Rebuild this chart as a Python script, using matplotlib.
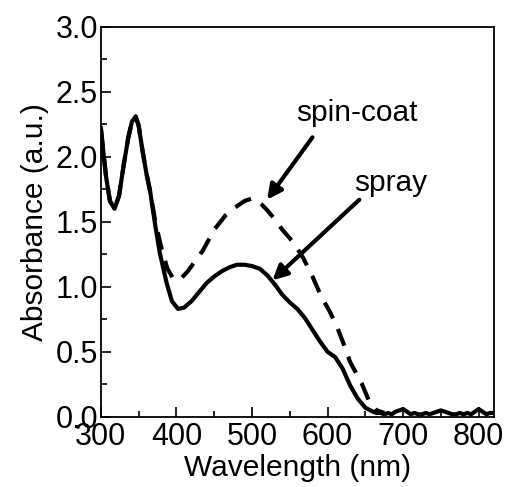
import matplotlib
matplotlib.use("Agg")
import matplotlib.pyplot as plt
from matplotlib.ticker import MultipleLocator

plt.rcParams["font.family"] = ["Liberation Sans", "DejaVu Sans"]

# spray film (solid line)
spray_wl = [300, 303, 307, 312, 318, 324, 330, 336, 341, 346, 350, 355, 360, 365,
            372, 378, 387, 394, 402, 410, 420, 430, 440, 450, 460, 470, 480, 490,
            500, 510, 520, 530, 540, 550, 560, 570, 580, 590, 600, 610, 620, 630,
            640, 650, 660, 665, 670, 675, 680, 685, 690, 695, 700, 705, 710, 715,
            720, 725, 730, 735, 740, 745, 750, 755, 760, 765, 770, 775, 780, 785,
            790, 795, 800, 805, 810, 815, 820]
spray_abs = [2.22, 2.05, 1.84, 1.66, 1.60, 1.70, 1.93, 2.14, 2.27, 2.31, 2.24, 2.05,
             1.88, 1.74, 1.47, 1.26, 1.03, 0.89, 0.83, 0.84, 0.89, 0.96, 1.03, 1.08,
             1.12, 1.15, 1.17, 1.17, 1.16, 1.14, 1.09, 1.02, 0.94, 0.88, 0.83, 0.76,
             0.67, 0.58, 0.50, 0.46, 0.37, 0.24, 0.14, 0.07, 0.04, 0.03, 0.03, 0.02,
             0.03, 0.02, 0.04, 0.05, 0.06, 0.04, 0.02, 0.03, 0.02, 0.02, 0.03, 0.02,
             0.03, 0.04, 0.05, 0.04, 0.03, 0.02, 0.02, 0.03, 0.02, 0.03, 0.02, 0.04,
             0.06, 0.04, 0.02, 0.03, 0.03]

# spin-coated film (dashed line)
spin_wl = [300, 303, 307, 312, 318, 324, 330, 336, 341, 346, 350, 355, 360, 365,
           372, 380, 388, 395, 400, 407, 415, 425, 435, 450, 465, 475, 490, 500,
           510, 520, 530, 540, 555, 568, 580, 592, 602, 612, 622, 630, 645, 655,
           665, 675]
spin_abs = [2.22, 2.05, 1.84, 1.66, 1.60, 1.70, 1.93, 2.14, 2.27, 2.31, 2.24, 2.05,
            1.88, 1.74, 1.50, 1.30, 1.14, 1.07, 1.05, 1.07, 1.12, 1.20, 1.28, 1.44,
            1.55, 1.60, 1.66, 1.68, 1.65, 1.59, 1.52, 1.44, 1.34, 1.22, 1.08, 0.92,
            0.82, 0.70, 0.55, 0.42, 0.26, 0.12, 0.05, 0.03]

fig = plt.figure(figsize=(5.07, 4.87), dpi=100)
ax = fig.add_axes([0.199, 0.144, 0.775, 0.801])

ax.plot(spray_wl, spray_abs, color="black", lw=3.0, solid_joinstyle="round")
ax.plot(spin_wl, spin_abs, color="black", lw=3.0, linestyle=(0, (4.3, 2.8)))

ax.set_xlim(300, 820)
ax.set_ylim(0, 3.0)
ax.xaxis.set_major_locator(MultipleLocator(100))
ax.xaxis.set_minor_locator(MultipleLocator(50))
ax.yaxis.set_major_locator(MultipleLocator(0.5))
ax.yaxis.set_minor_locator(MultipleLocator(0.25))
ax.yaxis.set_major_formatter(plt.FormatStrFormatter("%.1f"))
ax.tick_params(which="both", direction="in", top=False, right=False,
               labelsize=22, width=1.2)
ax.tick_params(axis="x", pad=4)
ax.tick_params(axis="y", pad=2)
ax.tick_params(which="major", length=7)
ax.tick_params(which="minor", length=4)
for s in ax.spines.values():
    s.set_linewidth(1.3)

ax.set_xlabel("Wavelength (nm)", fontsize=21.5, labelpad=1)
ax.set_ylabel("Absorbance (a.u.)", fontsize=21.5, labelpad=5)

arrow = dict(arrowstyle="-|>", color="black", lw=3, mutation_scale=22,
             shrinkA=0, shrinkB=0)
ax.annotate("", xy=(520, 1.67), xytext=(580, 2.15), arrowprops=arrow)
ax.annotate("", xy=(527, 1.05), xytext=(642, 1.67), arrowprops=arrow)
ax.text(639, 2.34, "spin-coat", fontsize=21.5, ha="center", va="center")
ax.text(683, 1.80, "spray", fontsize=21.5, ha="center", va="center")

fig.savefig("out.png", dpi=100)
